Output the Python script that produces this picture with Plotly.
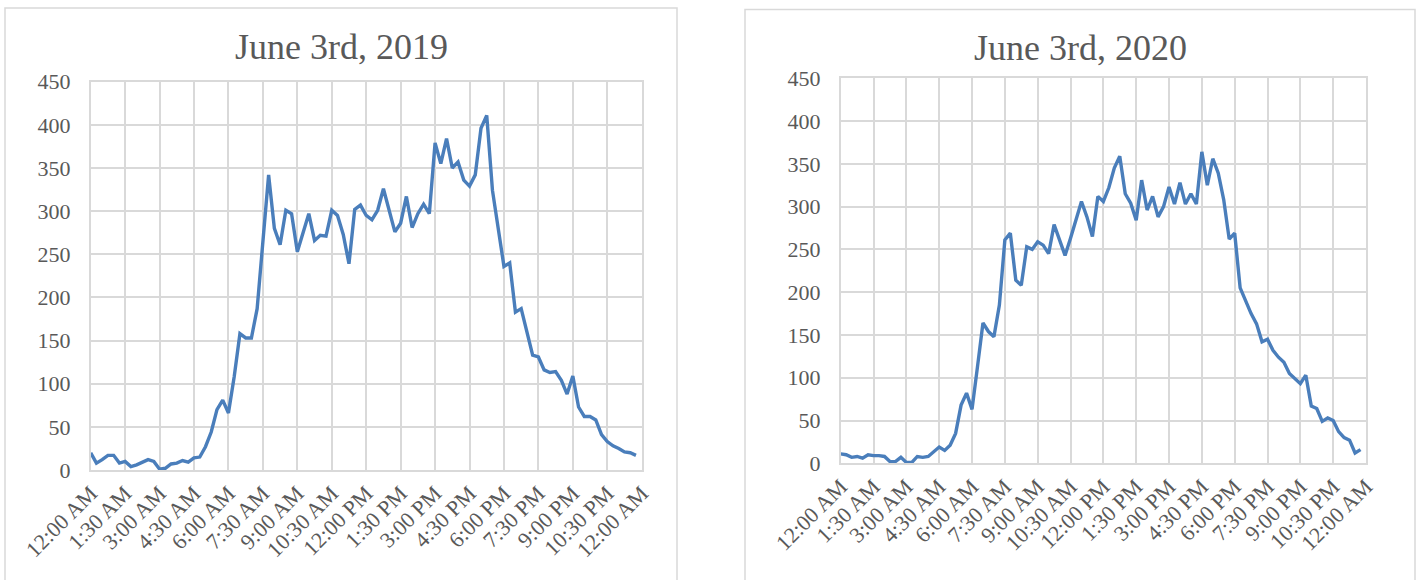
import plotly.graph_objects as go

# 15-minute intervals, hours from midnight (0:00 .. 23:45)
hours = [i * 0.25 for i in range(96)]

tick_vals = [0, 1.5, 3, 4.5, 6, 7.5, 9, 10.5, 12, 13.5, 15, 16.5, 18, 19.5, 21, 22.5, 24]
tick_labels = ["12:00 AM", "1:30 AM", "3:00 AM", "4:30 AM", "6:00 AM", "7:30 AM",
               "9:00 AM", "10:30 AM", "12:00 PM", "1:30 PM", "3:00 PM", "4:30 PM",
               "6:00 PM", "7:30 PM", "9:00 PM", "10:30 PM", "12:00 AM"]

values_2019 = [20, 8, 12, 17, 17, 8, 10, 4, 6, 9, 12, 10, 1, 2, 7, 8, 11, 9, 14, 15,
               27, 44, 70, 81, 66, 108, 158, 153, 153, 187, 268, 342, 280, 261, 301, 297,
               253, 275, 297, 266, 272, 271, 301, 295, 273, 239, 302, 307, 295, 290, 301,
               326, 299, 276, 286, 317, 281, 297, 308, 297, 379, 355, 384, 350, 357, 336,
               329, 342, 396, 411, 324, 282, 236, 240, 183, 187, 158, 133, 131, 116, 113,
               114, 104, 88, 109, 73, 62, 62, 58, 41, 33, 28, 25, 21, 20, 17]

values_2020 = [11, 10, 7, 8, 6, 10, 9, 9, 8, 2, 2, 7, 1, 1, 8, 7, 8, 14, 19, 15,
               21, 35, 68, 82, 63, 113, 164, 154, 148, 185, 261, 269, 214, 208, 253, 250,
               259, 255, 245, 279, 261, 243, 263, 285, 306, 288, 265, 312, 306, 322, 345,
               359, 315, 304, 284, 331, 296, 312, 288, 300, 323, 303, 328, 303, 315, 303,
               364, 325, 356, 339, 308, 262, 269, 205, 190, 175, 163, 142, 145, 132, 124,
               118, 105, 99, 93, 103, 67, 64, 49, 53, 50, 37, 30, 27, 12, 16]

titles = ["June 3rd, 2019", "June 3rd, 2020"]

W, H = 1421, 580
LINE_COLOR = "#4a7ebb"
GRID = "#d9d9d9"
TEXT = "#595959"
FONT = "Liberation Serif"

def px_x(a, b):
    return [a / W, b / W]

def px_y(top, bottom):
    return [1 - bottom / H, 1 - top / H]

fig = go.Figure()

panels = [
    dict(vals=values_2019, xd=px_x(90.7, 641.7), yd=px_y(81.7, 470), box=(5, 8, 677), title_x=341, title_y=47),
    dict(vals=values_2020, xd=px_x(840.7, 1366), yd=px_y(78.3, 463.3), box=(745, 9.5, 1415), title_x=1080, title_y=48),
]

for k, p in enumerate(panels):
    sfx = "" if k == 0 else str(k + 1)
    fig.add_trace(go.Scatter(x=hours, y=p["vals"], mode="lines",
                             line=dict(color=LINE_COLOR, width=3.4),
                             xaxis="x" + sfx, yaxis="y" + sfx, showlegend=False,
                             hoverinfo="x+y"))
    xa = dict(domain=p["xd"], range=[0, 24], tickvals=tick_vals, ticktext=tick_labels,
              tickangle=-45, showgrid=True, gridcolor=GRID, gridwidth=1.5,
              showline=True, linecolor=GRID, linewidth=1.5, mirror=True,
              zeroline=False, ticks="", tickfont=dict(family=FONT, size=22, color=TEXT),
              anchor="y" + sfx, fixedrange=True, automargin=False)
    ya = dict(domain=p["yd"], range=[0, 450], dtick=50, showgrid=True, gridcolor=GRID,
              gridwidth=1.5, showline=True, linecolor=GRID, linewidth=1.5, mirror=True,
              zeroline=False, ticks="outside", ticklen=14, tickcolor="rgba(0,0,0,0)",
              tickfont=dict(family=FONT, size=22, color=TEXT),
              anchor="x" + sfx, fixedrange=True, automargin=False)
    fig.update_layout(**{"xaxis" + sfx: xa, "yaxis" + sfx: ya})
    bx0, by0, bx1 = p["box"]
    fig.add_shape(type="rect", xref="paper", yref="paper",
                  x0=bx0 / W, x1=bx1 / W, y0=-0.1, y1=1 - by0 / H,
                  line=dict(color=GRID, width=1.5), fillcolor="rgba(0,0,0,0)", layer="below")
    fig.add_annotation(text=titles[k], xref="paper", yref="paper",
                       x=p["title_x"] / W, y=1 - p["title_y"] / H,
                       xanchor="center", yanchor="middle", showarrow=False,
                       font=dict(family=FONT, size=36, color=TEXT))

fig.update_layout(width=W, height=H, margin=dict(l=0, r=0, t=0, b=0, autoexpand=False),
                  paper_bgcolor="white", plot_bgcolor="white")

fig.write_html("out.html", config={"displayModeBar": False},
               post_script="document.body.style.margin='0px';document.body.style.overflow='hidden';")
